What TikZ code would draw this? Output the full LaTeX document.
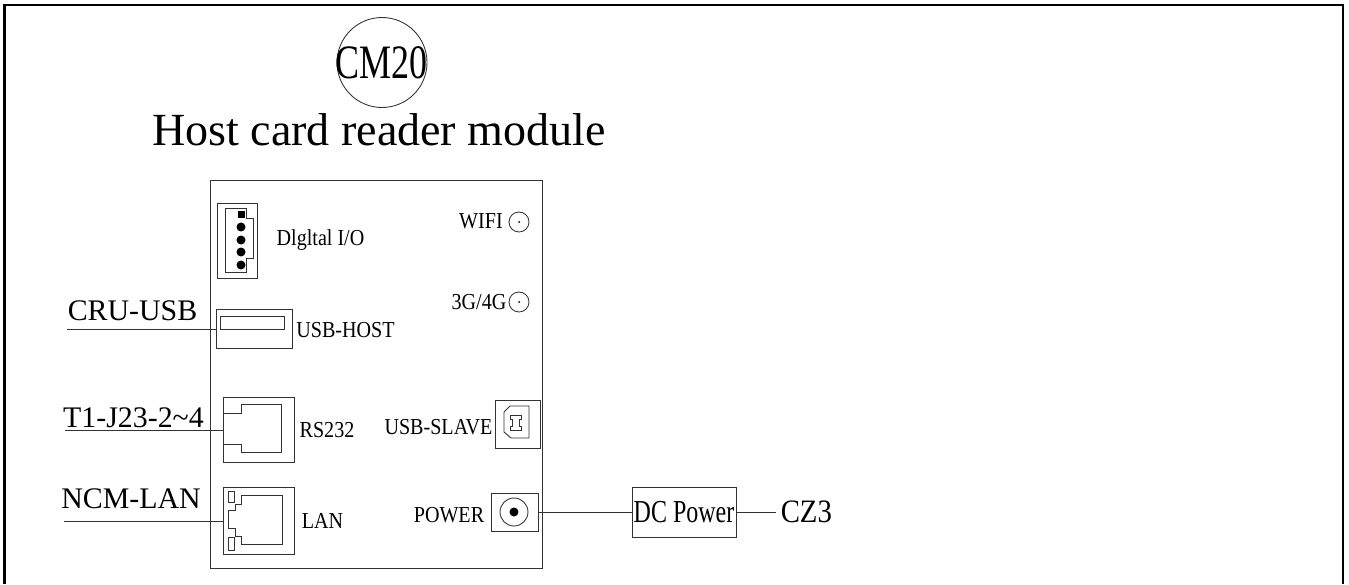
\documentclass[tikz,border=0pt]{standalone}
\usepackage{fontspec}
\setmainfont{Liberation Serif}
\newfontfamily\narrowfont[FakeStretch=.75]{Liberation Serif}
\newfontfamily\midfont[FakeStretch=.88]{Liberation Serif}
\usetikzlibrary{arrows,calc}
\usepackage{tkz-euclide}
\tikzset{
  part/.style={draw=black!80,line width=.5pt,inner sep=0pt},
  wire/.style={draw=black!80,line width=.45pt},
  bigtext/.style={anchor=base,inner sep=0pt,font=\narrowfont\fontsize{27.3}{30}\selectfont},
  pintext/.style={anchor=base,inner sep=0pt,font=\fontsize{17}{20}\selectfont},
  smalltext/.style={anchor=base,inner sep=0pt,font=\midfont\fontsize{13}{15}\selectfont}
}

\begin{document}
\begin{tikzpicture}
\useasboundingbox (0,0) rectangle (26.98,11.68);

% frame, open at the bottom
\draw[line width=1.2pt] (.09,0) -- (.09,11.58) -- (26.86,11.58) -- (26.86,0);

\tkzDefPoints{7.64/10.43/O,7.64/11.33/A}
\tkzDefPoints{10.38/7.24/W,10.38/7.44/WW,10.38/5.64/G,10.38/5.84/GG}
\tkzDefPoints{10.28/1.44/P,10.28/1.72/PP}
\tkzDrawCircle[line width=.5pt,color=black!80](O,A)
\tkzDrawCircle[line width=.5pt,color=black!80](W,WW)
\tkzDrawCircle[line width=.5pt,color=black!80](G,GG)
\tkzDrawCircle[line width=.5pt,color=black!80](P,PP)

\node[bigtext] (cmtext) at (7.63,10.11) {CM20};
\node[anchor=base,inner sep=0pt,font=\fontsize{26.2}{30}\selectfont] (hosttext) at (7.58,8.77) {Host card reader module};

% module outline and its connectors
\node[part,minimum width=6.64cm,minimum height=7.76cm] (board) at (7.53,4.20) {};
\node[part,minimum width=.8cm,minimum height=1.5cm] (dio) at (4.74,6.87) {};
\node[part,minimum width=1.52cm,minimum height=.78cm] (usbhost) at (5.08,5.10) {};
\node[part,minimum width=1.42cm,minimum height=1.30cm] (rs) at (5.17,3.08) {};
\node[part,minimum width=1.42cm,minimum height=1.34cm] (lan) at (5.18,1.26) {};
\node[part,minimum width=.90cm,minimum height=.96cm] (usbslave) at (10.35,3.20) {};
\node[part,minimum width=.94cm,minimum height=.76cm] (power) at (10.29,1.44) {};
\node[part,minimum width=2.08cm,minimum height=1cm,font=\narrowfont\fontsize{18.2}{20}\selectfont] (dc) at (13.68,1.44) {DC Power};

\draw[part] (4.5,7.52) -- (4.92,7.52) -- (4.92,7.32) -- (5.06,7.32) -- (5.06,6.52) -- (4.92,6.52) -- (4.92,6.24) -- (4.5,6.24) -- cycle;
\fill (4.75,7.33) rectangle (4.89,7.47);
\foreach \y in {7.14,6.88,6.64,6.38}
  \fill (4.82,\y) circle (.09);

\draw[part] (4.41,5.10) rectangle (5.68,5.36);

\draw[part] (4.46,3.42) -- (4.82,3.42) -- (4.82,3.60) -- (5.63,3.60) -- (5.63,2.64) -- (4.82,2.64) -- (4.82,2.80) -- (4.46,2.80);

\draw[part] (4.82,1.78) -- (5.65,1.78) -- (5.65,.80) -- (4.82,.80) -- (4.82,.96) -- (4.70,.96) -- (4.70,1.12) -- (4.56,1.12) -- (4.56,1.48) -- (4.70,1.48) -- (4.70,1.60) -- (4.82,1.60) -- cycle;
\draw[part] (4.57,1.64) rectangle (4.68,1.86);
\draw[part] (4.57,.68) rectangle (4.68,.94);

% USB B socket
\draw[part] (10.20,3.56) -- (10.58,3.56) -- (10.58,2.92) -- (10.22,2.92) -- (10.08,3.04) -- (10.08,3.44) -- cycle;
\draw[part] (10.20,3.38) -- (10.42,3.38) -- (10.42,3.30) -- (10.38,3.30) -- (10.38,3.16) -- (10.42,3.16) -- (10.42,3.08) -- (10.20,3.08) -- (10.20,3.16) -- (10.24,3.16) -- (10.24,3.30) -- (10.20,3.30) -- cycle;

\fill (10.38,7.24) circle (.02);
\fill (10.38,5.64) circle (.02);
\fill (10.28,1.44) circle (.09);

% labels
\node[smalltext] (diotext) at (6.41,6.78) {Dlgltal I/O};
\node[smalltext] (wifitext) at (9.62,7.12) {WIFI};
\node[smalltext] (gtext) at (9.58,5.50) {3G/4G};
\node[smalltext] (hostlabel) at (6.91,4.94) {USB-HOST};
\node[smalltext] (rstext) at (6.54,2.94) {RS232};
\node[smalltext] (lantext) at (6.45,1.12) {LAN};
\node[smalltext] (slavetext) at (8.77,3.00) {USB-SLAVE};
\node[smalltext] (powertext) at (8.98,1.24) {POWER};

\node[pintext] (crutext) at (2.65,5.28) {CRU-USB};
\node[pintext] (t1text) at (2.67,3.14) {T1-J23-2\textasciitilde 4};
\node[pintext] (ncmtext) at (2.62,1.52) {NCM-LAN};

\node[anchor=west,inner sep=2.5pt,font=\midfont\fontsize{18.6}{20}\selectfont] (cz) at (15.52,1.44) {CZ3};

% wires
\coordinate (cruend) at (1.34,5.10);
\coordinate (t1end) at (1.30,3.08);
\coordinate (ncmend) at (1.28,1.26);
\draw[wire] (cruend) -- (usbhost);
\draw[wire] (t1end) -- (rs);
\draw[wire] (ncmend) -- (lan);
\draw[wire] (power) -- (dc);
\draw[wire] (dc) -- (cz);

\end{tikzpicture}
\end{document}
